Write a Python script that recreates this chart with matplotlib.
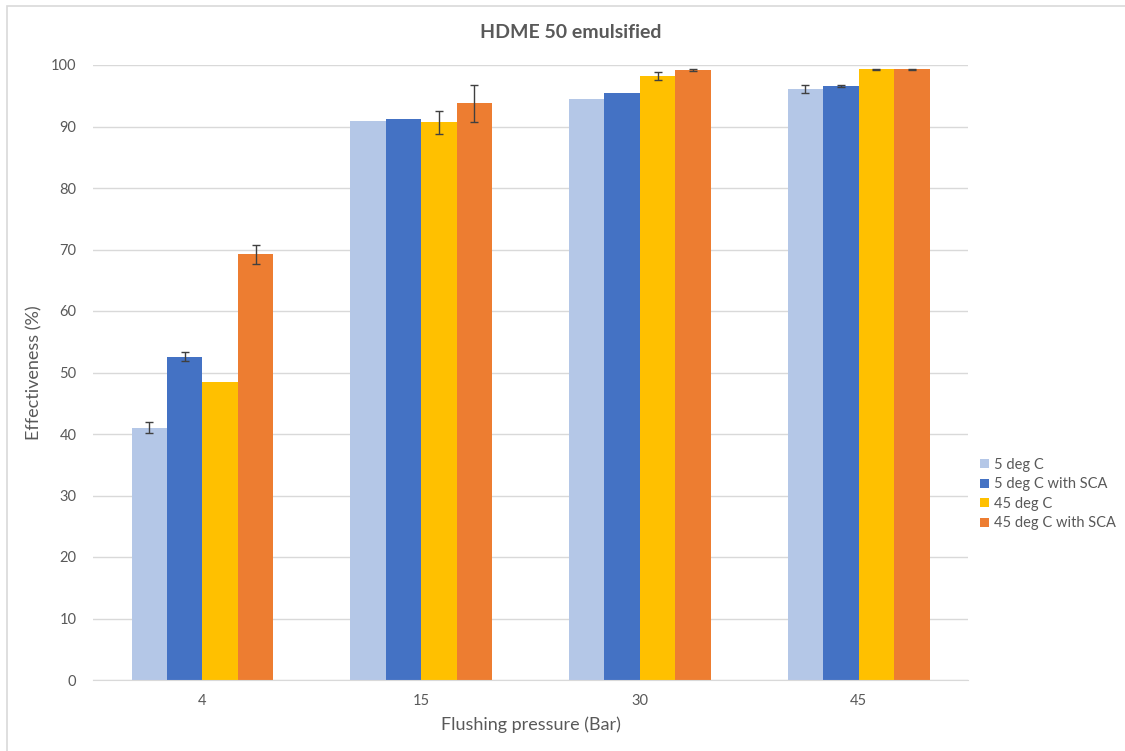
import matplotlib
matplotlib.use("Agg")
import matplotlib.pyplot as plt
import numpy as np

categories = ["4", "15", "30", "45"]
series_names = ["5 deg C", "5 deg C with SCA", "45 deg C", "45 deg C with SCA"]
v_5 = [41.0, 90.9, 94.5, 96.1]
v_5_sca = [52.6, 91.2, 95.5, 96.6]
v_45 = [48.5, 90.7, 98.2, 99.3]
v_45_sca = [69.2, 93.8, 99.2, 99.3]
e_5 = [0.9, 0.0, 0.0, 0.7]
e_5_sca = [0.8, 0.0, 0.0, 0.2]
e_45 = [0.0, 1.9, 0.7, 0.1]
e_45_sca = [1.6, 3.0, 0.2, 0.1]
colors = ["#B4C7E7", "#4472C4", "#FFC000", "#ED7D31"]

plt.rcParams['font.family'] = ['Lato', 'DejaVu Sans']
W, H = 1125, 751
fig = plt.figure(figsize=(W/100, H/100), dpi=100)
ax = fig.add_axes([93/W, 1-680/H, (968-93)/W, (680-65)/H])

x = np.arange(len(categories))
bw = 0.162
vals = [v_5, v_5_sca, v_45, v_45_sca]
errs = [e_5, e_5_sca, e_45, e_45_sca]
for i, (v, e, c, n) in enumerate(zip(vals, errs, colors, series_names)):
    pos = x + (i - 1.5) * bw
    ax.bar(pos, v, width=bw, color=c, label=n, zorder=2)
    ee = np.array(e)
    mask = ee > 0
    ax.errorbar(pos[mask], np.array(v)[mask], yerr=ee[mask], fmt='none',
                ecolor='#404040', elinewidth=1.0, capsize=3, capthick=1.0, zorder=3)

ax.set_xlim(-0.5, 3.5)
ax.set_ylim(0, 100)
ax.set_yticks(range(0, 101, 10))
ax.set_xticks(x)
ax.set_xticklabels(categories)
ax.yaxis.grid(True, color='#D9D9D9', linewidth=1.0, zorder=0)
ax.set_axisbelow(True)
for s in ['top', 'right', 'left']:
    ax.spines[s].set_visible(False)
ax.spines['bottom'].set_color('#D9D9D9')
ax.tick_params(axis='both', length=0, colors='#595959', labelsize=10.5)
ax.tick_params(axis='y', pad=12)
ax.tick_params(axis='x', pad=10)

ax.set_ylabel("Effectiveness (%)", fontsize=13, color='#595959', labelpad=6)
ax.set_xlabel("Flushing pressure (Bar)", fontsize=13, color='#595959', labelpad=6)

fig.text(571/W, 1-33/H, "HDME 50 emulsified", ha='center', va='center',
         fontsize=14, fontweight='bold', color='#595959')

leg = ax.legend(loc='upper left', bbox_to_anchor=(974/W, 1-452/H), bbox_transform=fig.transFigure,
                frameon=False, fontsize=10.5, handlelength=0.6, handleheight=0.6,
                handletextpad=0.4, labelspacing=0.38, borderaxespad=0)
for t in leg.get_texts():
    t.set_color('#595959')

border = plt.Rectangle((7/W, -0.01), 1.02, 1-6/H + 0.01, transform=fig.transFigure,
                       fill=False, edgecolor='#D9D9D9', linewidth=1.2)
fig.patches.append(border)

fig.savefig("out.png", dpi=100)
